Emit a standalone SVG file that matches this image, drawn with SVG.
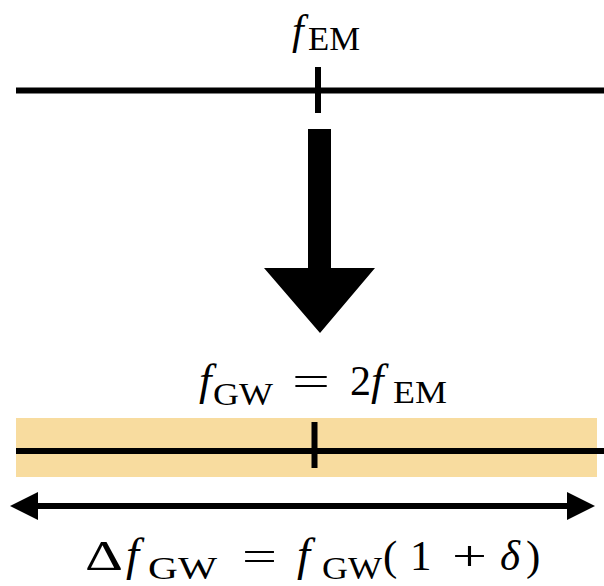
<svg xmlns="http://www.w3.org/2000/svg" width="604" height="586" viewBox="0 0 604 586">
<style>
.t{font-family:"Liberation Serif","Times New Roman",serif;fill:#000}
.i{font-style:italic}
.ln{stroke:#000;stroke-width:6;fill:none}
</style>
<defs>
<marker id="ah" viewBox="0 0 28 28" refX="8" refY="14" markerWidth="28" markerHeight="28" markerUnits="userSpaceOnUse" orient="auto-start-reverse">
<path d="M0,0 L28,14 L0,28 Z" fill="#000"/>
</marker>
</defs>
<rect width="604" height="586" fill="#fff"/>
<g id="top-line">
<line class="ln" x1="16" y1="90.5" x2="604" y2="90.5"/>
<line class="ln" x1="318" y1="67" x2="318" y2="113"/>
<text class="t" font-size="42"><tspan class="i" x="292" y="44">f</tspan><tspan x="308" y="50" font-size="33" textLength="52" lengthAdjust="spacingAndGlyphs">EM</tspan></text>
</g>
<g id="arrow-down">
<polygon points="308,129 331,129 331,268 375,268 320,333 264,268 308,268" fill="#000"/>
</g>
<g id="bottom-band">
<rect x="16" y="418" width="581" height="59" fill="#F8DC9F"/>
<line class="ln" x1="16" y1="451" x2="604" y2="451"/>
<line class="ln" x1="314.5" y1="422" x2="314.5" y2="468"/>
<text class="t" font-size="42"><tspan class="i" x="199" y="395" font-size="45">f</tspan><tspan x="213" y="405" font-size="31" textLength="60" lengthAdjust="spacingAndGlyphs">GW</tspan><tspan x="292" y="395" textLength="38" lengthAdjust="spacingAndGlyphs">=</tspan><tspan x="350" y="395">2</tspan><tspan class="i" x="371" y="395" font-size="45">f</tspan><tspan x="393" y="403" font-size="31" textLength="54" lengthAdjust="spacingAndGlyphs">EM</tspan></text>
</g>
<g id="connectors">
<line x1="30" y1="506" x2="575" y2="506" stroke="#000" stroke-width="6" marker-start="url(#ah)" marker-end="url(#ah)"/>
</g>
<g id="width-label">
<text class="t" font-size="43"><tspan x="85" y="570" textLength="38" lengthAdjust="spacingAndGlyphs">Δ</tspan><tspan class="i" x="126" y="570" font-size="47">f</tspan><tspan x="148" y="579" font-size="31" textLength="69" lengthAdjust="spacingAndGlyphs">GW</tspan><tspan x="242" y="570" textLength="35" lengthAdjust="spacingAndGlyphs">=</tspan><tspan class="i" x="297" y="570" font-size="47">f</tspan><tspan x="322" y="579" font-size="31" textLength="60" lengthAdjust="spacingAndGlyphs">GW</tspan><tspan x="383" y="570">(</tspan><tspan x="410" y="570">1</tspan><tspan x="452" y="570" textLength="35" lengthAdjust="spacingAndGlyphs">+</tspan><tspan class="i" x="500" y="570">δ</tspan><tspan x="526" y="570">)</tspan></text>
</g>
</svg>
